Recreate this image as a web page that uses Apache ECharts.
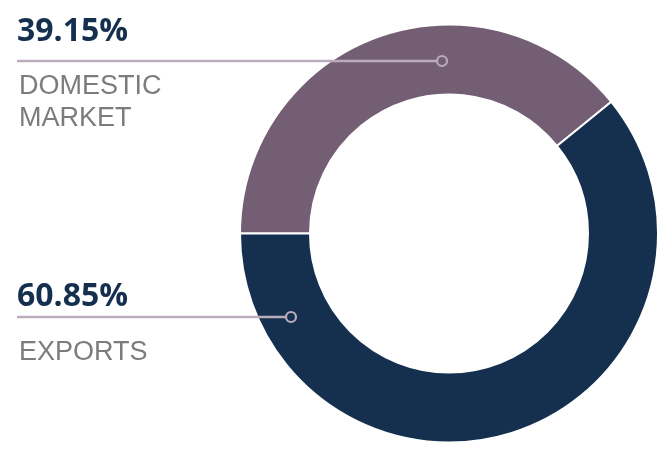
<!DOCTYPE html>
<html>
<head>
<meta charset="utf-8">
<style>
  html, body { margin: 0; padding: 0; background: #ffffff; }
  #chart { width: 662px; height: 454px; }
</style>
<script src="https://cdn.jsdelivr.net/npm/echarts@6/dist/echarts.min.js"></script>
</head>
<body>
<div id="chart"></div>
<script>
// ---- data ----
var categories = ['DOMESTIC\nMARKET', 'EXPORTS'];
var shares = [39.15, 60.85];
var sliceColors = ['#735e73', '#15304f'];

// ---- layout (style only) ----
var center = [449, 233.5];
var radii = [139, 209];
var labelX = 17;
// per-category annotation layout: leader y, marker x, value-text center y, name-text top y
var annot = [
  { lineY: 61,  markerX: 442, valueY: 32,  nameY: 71 },
  { lineY: 317, markerX: 291, valueY: 297, nameY: 337 }
];

var chart = echarts.init(document.getElementById('chart'), null, { renderer: 'canvas' });

var graphics = [];
categories.forEach(function (cat, i) {
  var a = annot[i];
  graphics.push({
    type: 'line', z: 100,
    shape: { x1: labelX, y1: a.lineY, x2: a.markerX - 5.5, y2: a.lineY },
    style: { stroke: '#bcabbc', lineWidth: 2.5 }
  });
  graphics.push({
    type: 'circle', z: 100,
    shape: { cx: a.markerX, cy: a.lineY, r: 5 },
    style: { fill: 'transparent', stroke: '#bcabbc', lineWidth: 2.2 }
  });
  graphics.push({
    type: 'text', z: 100, x: labelX, y: a.valueY,
    style: {
      text: shares[i].toFixed(2) + '%',
      fill: '#15304f',
      font: 'bold 32px "Open Sans", sans-serif',
      verticalAlign: 'middle', align: 'left'
    }
  });
  graphics.push({
    type: 'text', z: 100, x: labelX + 2, y: a.nameY,
    style: {
      text: cat,
      fill: '#7c7c7c',
      font: '300 27px "Liberation Sans", sans-serif',
      lineHeight: 32,
      verticalAlign: 'top', align: 'left'
    }
  });
});

chart.setOption({
  backgroundColor: '#ffffff',
  animation: false,
  series: [{
    type: 'pie',
    center: center,
    radius: radii,
    startAngle: 180,
    clockwise: true,
    avoidLabelOverlap: false,
    label: { show: false },
    labelLine: { show: false },
    emphasis: { disabled: true },
    itemStyle: { borderColor: '#ffffff', borderWidth: 2 },
    data: categories.map(function (c, i) {
      return { name: c, value: shares[i], itemStyle: { color: sliceColors[i] } };
    })
  }],
  graphic: graphics
});
</script>
</body>
</html>
